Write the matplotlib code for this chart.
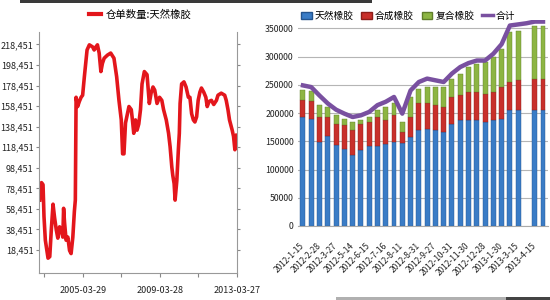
import numpy as np
import matplotlib
matplotlib.use("Agg")
import matplotlib.pyplot as plt
from matplotlib.lines import Line2D
from matplotlib.patches import Patch, Rectangle

plt.rcParams['font.family'] = ['Noto Sans CJK SC', 'DejaVu Sans']
plt.rcParams['axes.unicode_minus'] = False

# ---------------- 左图：仓单数量（天然橡胶） ----------------
stock_years = [2003.00, 2003.09, 2003.17, 2003.22, 2003.29, 2003.43, 2003.52, 2003.60, 2003.69, 2003.77,
               2003.86, 2003.94, 2004.03, 2004.12, 2004.20, 2004.24, 2004.29, 2004.37, 2004.46, 2004.55,
               2004.63, 2004.72, 2004.80, 2004.85, 2004.89, 2004.97, 2005.06, 2005.15, 2005.23, 2005.32,
               2005.46, 2005.58, 2005.75, 2005.83, 2005.92, 2006.00, 2006.09, 2006.18, 2006.26, 2006.35,
               2006.52, 2006.69, 2006.86, 2007.00, 2007.12, 2007.24, 2007.31, 2007.38, 2007.46, 2007.64,
               2007.76, 2007.82, 2007.89, 2007.98, 2008.06, 2008.15, 2008.24, 2008.32, 2008.44, 2008.58,
               2008.70, 2008.79, 2008.89, 2008.98, 2009.10, 2009.23, 2009.35, 2009.44, 2009.58, 2009.70,
               2009.78, 2009.87, 2009.92, 2009.99, 2010.04, 2010.13, 2010.21, 2010.26, 2010.30, 2010.38,
               2010.50, 2010.61, 2010.73, 2010.81, 2010.90, 2010.99, 2011.07, 2011.16, 2011.24, 2011.33,
               2011.41, 2011.53, 2011.64, 2011.71, 2011.81, 2011.93, 2012.05, 2012.19, 2012.27, 2012.44,
               2012.62, 2012.70, 2012.79, 2012.87, 2013.01, 2013.08, 2013.15, 2013.20, 2013.24]
stock_values = [67000, 84000, 82000, 51000, 28000, 10500, 12000, 38000, 63000, 50000,
                38000, 30000, 41000, 38000, 31000, 59000, 45000, 28000, 31000, 18000,
                15000, 31000, 56000, 67000, 167000, 158000, 163000, 167000, 169000, 187000,
                213000, 218000, 216000, 213000, 216000, 218000, 210000, 192000, 200000, 205000,
                208000, 210000, 205000, 187000, 164000, 145000, 112000, 112000, 142000, 158000,
                155000, 145000, 132000, 145000, 135000, 141000, 155000, 180000, 192000, 189000,
                161000, 171000, 177000, 174000, 161000, 167000, 164000, 155000, 145000, 132000,
                119000, 99000, 91000, 83000, 67000, 86000, 116000, 132000, 161000, 180000,
                182000, 177000, 167000, 167000, 151000, 145000, 143000, 148000, 164000, 172000,
                176000, 172000, 167000, 158000, 163000, 164000, 160000, 164000, 169000, 171000,
                169000, 164000, 155000, 145000, 135000, 129000, 116000, 128000, 130000]
left_yticks = [18451, 38451, 58451, 78451, 98451, 118451, 138451, 158451, 178451, 198451, 218451]
left_xtick_pos = [2003.24, 2005.24, 2007.24, 2009.24, 2011.24, 2013.24]
left_xtick_lab = ['', '2005-03-29', '', '2009-03-28', '', '2013-03-27']

# ---------------- 右图：橡胶库存 ----------------
dates = ['2012-1-15', '', '2012-2-28', '', '2012-3-27', '', '2012-5-14', '', '2012-6-15', '',
         '2012-7-16', '', '2012-8-11', '', '2012-8-31', '', '2012-9-27', '', '2012-10-31', '',
         '2012-11-30', '', '2012-12-28', '', '2013-1-30', '', '2013-3-15', '', '2013-4-15', '']
natural = [193000, 190000, 149000, 159000, 143000, 137000, 125500, 134000, 141000, 141000,
           146000, 149000, 147000, 157000, 170000, 172500, 170000, 167000, 181500, 187000,
           187000, 187000, 184000, 187000, 190000, 205000, 205000, np.nan, 205000, 206000]
synthetic = [30000, 31000, 44000, 34000, 38500, 41500, 44500, 47500, 43000, 52000,
             41000, 47000, 20000, 36000, 47000, 44500, 44000, 44000, 47000, 44500,
             50000, 50000, 50500, 50000, 56000, 50000, 53000, np.nan, 56000, 55000]
composite = [17000, 18000, 21000, 18000, 14500, 11500, 14000, 5500, 9000, 12000,
             24000, 21000, 17000, 35500, 26000, 29000, 32000, 35000, 32500, 38500,
             44500, 50500, 55500, 62000, 68000, 88000, 88000, np.nan, 94000, 94000]
total = [249000, 246000, 231000, 217000, 206000, 199000, 193000, 196000, 202000, 214000,
         220000, 228500, 199000, 240000, 255000, 261000, 258000, 255000, 270000, 281500,
         288500, 293000, 293000, 305000, 322000, 355000, 357000, 359000, 362000, 362000]

fig = plt.figure(figsize=(5.5, 3), dpi=100)
fig.patch.set_facecolor('white')

# 左图
ax1 = fig.add_axes([0.0709, 0.089, 0.36, 0.805])
ax1.plot(stock_years, stock_values, color='#e3161c', linewidth=2.6, solid_joinstyle='round')
ax1.set_xlim(2002.96, 2013.26)
ax1.set_ylim(-4200, 230700)
ax1.set_yticks(left_yticks)
ax1.set_yticklabels([f'{v:,}' for v in left_yticks], fontsize=6.5, color='#222222')
ax1.set_xticks(left_xtick_pos)
ax1.set_xticklabels(left_xtick_lab, fontsize=6.5, color='#222222')
ax1.tick_params(axis='y', which='both', length=2, color='#888888', pad=2, right=True)
ax1.tick_params(axis='x', length=3, color='#888888', pad=6)
for s in ['left', 'right', 'bottom']:
    ax1.spines[s].set_color('#999999')
    ax1.spines[s].set_linewidth(0.8)
ax1.spines['top'].set_visible(False)
ax1.legend(handles=[Line2D([], [], color='#e3161c', linewidth=3)],
           labels=['仓单数量:天然橡胶'], loc='center', bbox_to_anchor=(0.255, 0.952),
           bbox_transform=fig.transFigure, frameon=False, fontsize=7.5,
           handlelength=1.2, handletextpad=0.4)

# 右图
ax2 = fig.add_axes([0.5418, 0.2467, 0.4545, 0.687])
x = np.arange(len(natural))
nat = np.array(natural)
syn = np.array(synthetic)
com = np.array(composite)
ax2.bar(x, nat, width=0.6, color='#3a7cc6', edgecolor='#24548e', linewidth=0.3, zorder=2)
ax2.bar(x, syn, width=0.6, bottom=nat, color='#c8302b', edgecolor='#8c1e1a', linewidth=0.3, zorder=2)
ax2.bar(x, com, width=0.6, bottom=nat + syn, color='#8db543', edgecolor='#5f7d2a', linewidth=0.3, zorder=2)
ax2.plot(x, total, color='#7950a0', linewidth=3.2, zorder=3, solid_joinstyle='round')
ax2.set_xlim(-0.6, len(natural) - 0.4)
ax2.set_ylim(0, 365000)
ax2.set_yticks(np.arange(0, 350001, 50000))
ax2.set_yticklabels([str(v) for v in range(0, 350001, 50000)], fontsize=6.3, color='#222222')
ax2.yaxis.grid(True, color='#b5b5b5', linewidth=0.8, zorder=0)
ax2.set_axisbelow(True)
ax2.set_xticks(x)
ax2.set_xticklabels(dates, rotation=45, ha='right', va='center', rotation_mode='anchor',
                    fontsize=6, color='#222222')
ax2.tick_params(axis='x', length=0, pad=13)
ax2.tick_params(axis='y', length=0, pad=3)
for s in ['left', 'right', 'top']:
    ax2.spines[s].set_visible(False)
ax2.spines['bottom'].set_color('#aaaaaa')
handles = [Patch(facecolor='#3a7cc6', edgecolor='#24548e'),
           Patch(facecolor='#c8302b', edgecolor='#8c1e1a'),
           Patch(facecolor='#8db543', edgecolor='#5f7d2a'),
           Line2D([], [], color='#7950a0', linewidth=2.5)]
ax2.legend(handles, ['天然橡胶', '合成橡胶', '复合橡胶', '合计'], loc='center', ncol=4,
           bbox_to_anchor=(0.742, 0.948), bbox_transform=fig.transFigure, frameon=False,
           fontsize=7, handlelength=1.1, handleheight=0.8, handletextpad=0.3, columnspacing=0.8)

# 截图边缘的暗色条
fig.patches.append(Rectangle((0.036, 0.99), 0.64, 0.01, transform=fig.transFigure,
                             facecolor='#3a3a3a', edgecolor='none'))
fig.patches.append(Rectangle((0.61, 0.0), 0.31, 0.01, transform=fig.transFigure,
                             facecolor='#b0b0b0', edgecolor='none'))
fig.patches.append(Rectangle((0.92, 0.0), 0.08, 0.01, transform=fig.transFigure,
                             facecolor='#444444', edgecolor='none'))

fig.savefig('out.png', dpi=100)
